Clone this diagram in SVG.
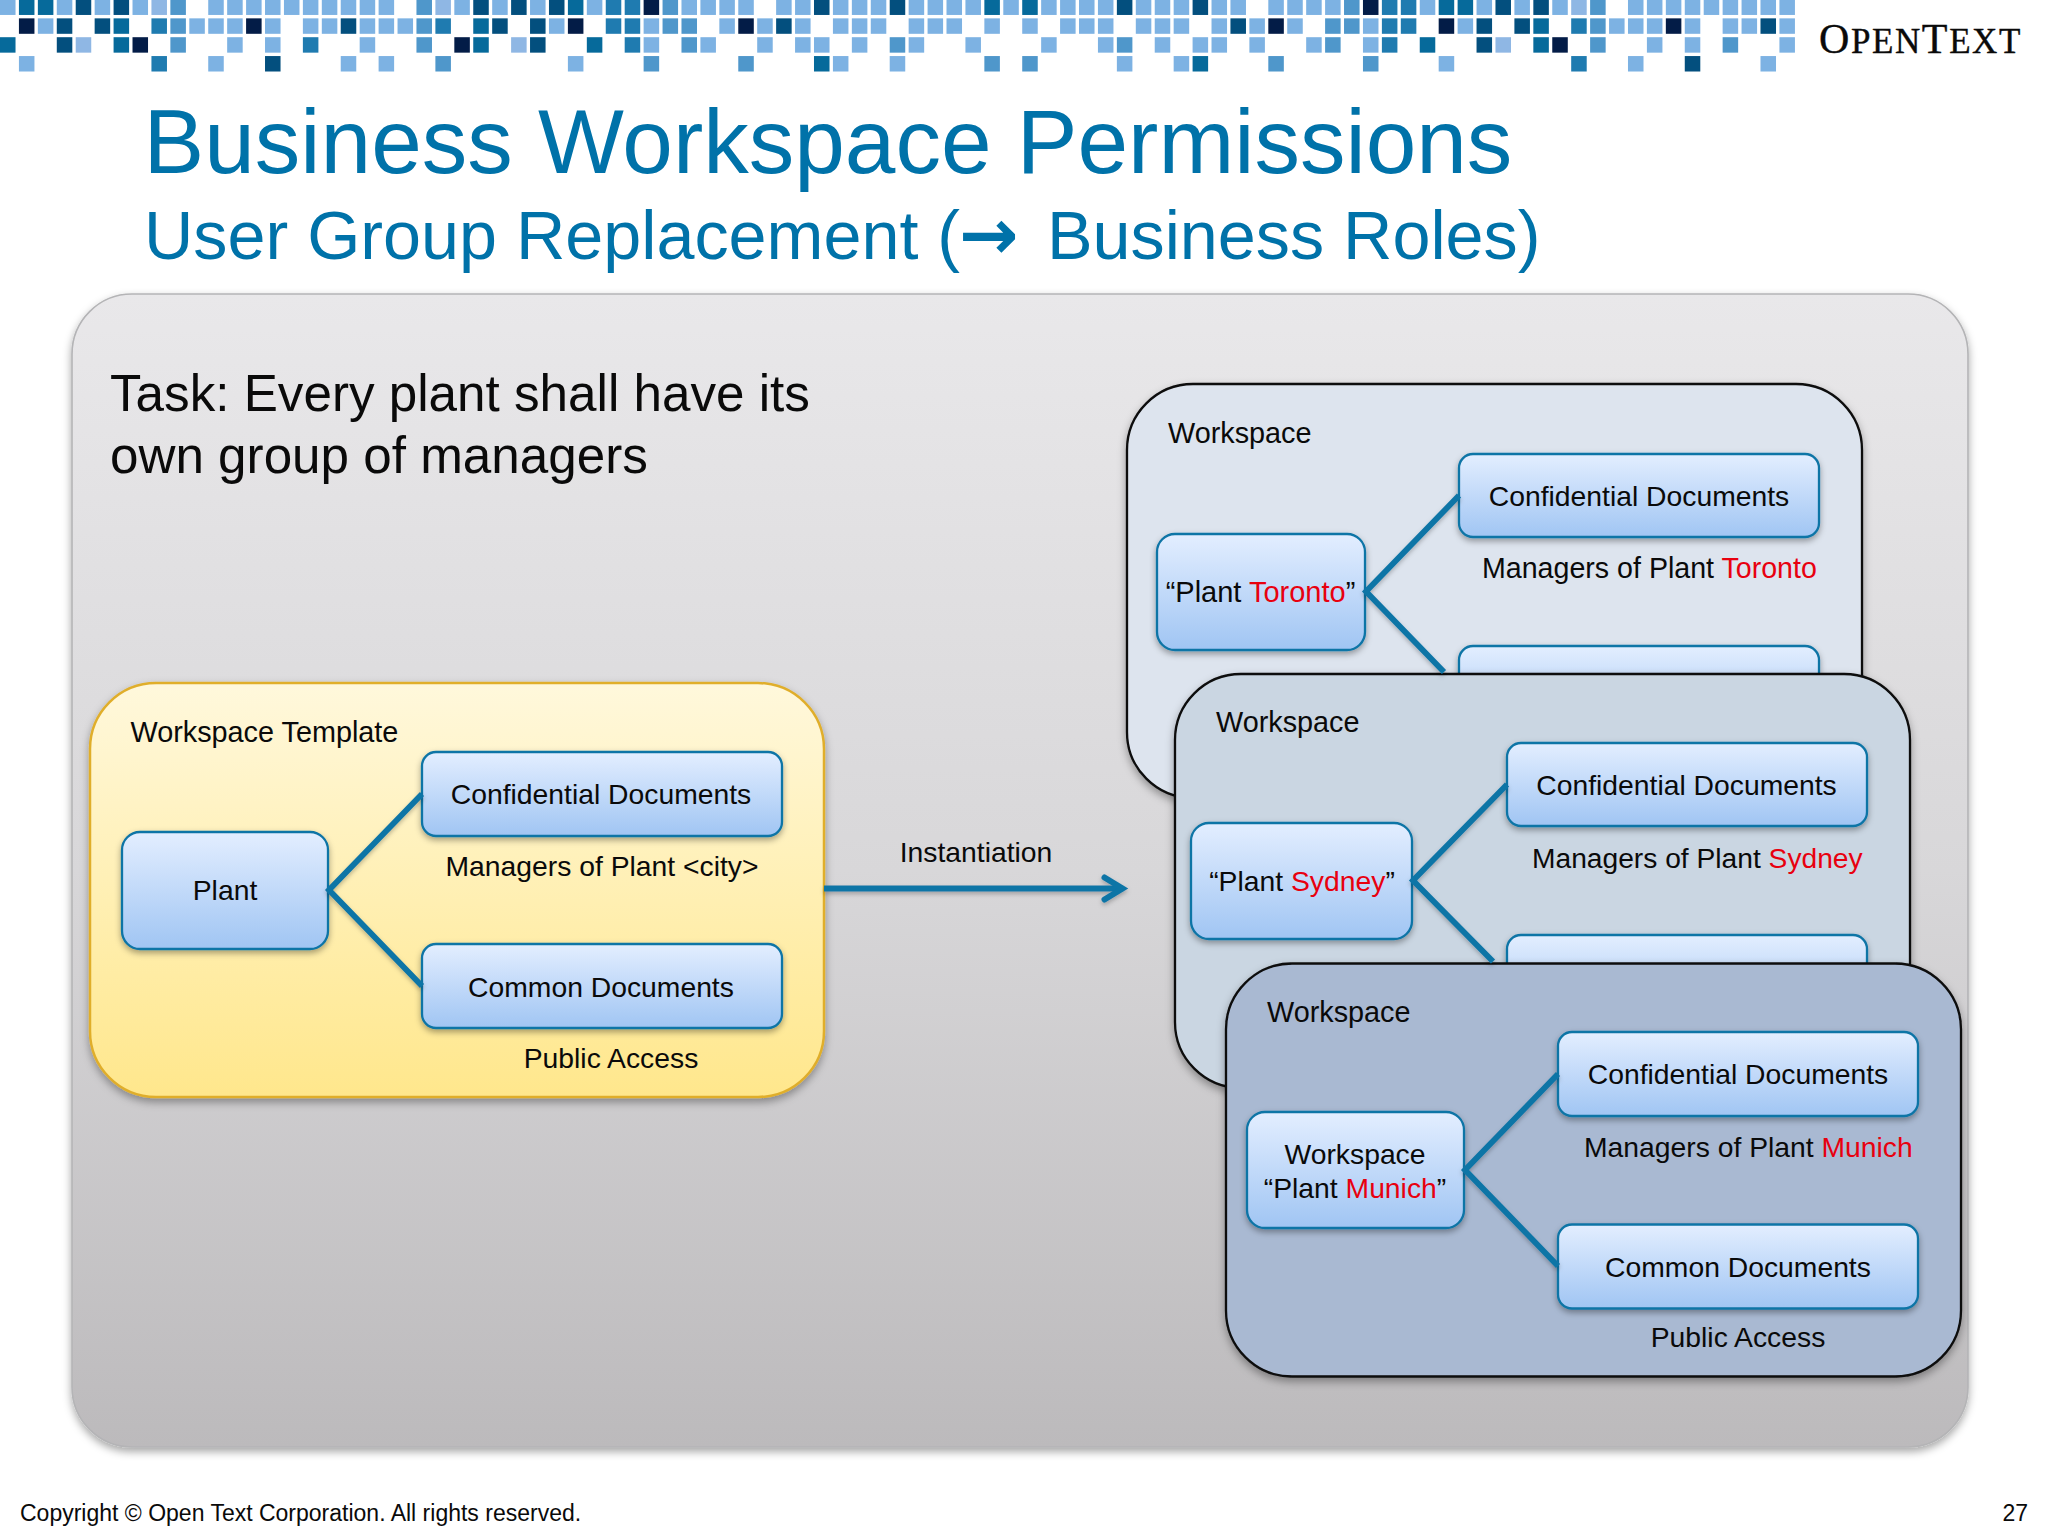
<svg xmlns="http://www.w3.org/2000/svg" width="2048" height="1536" viewBox="0 0 2048 1536">
<style>
text{font-family:"Liberation Sans",Arial,sans-serif;fill:#0a0a0a}
.mosaic rect{width:.82px;height:.82px}
.L{fill:#7db2e3}.P{fill:#8fb7e4}.M{fill:#4f97cb}.B{fill:#1f7bb0}.T{fill:#066a9b}.D{fill:#034f7e}.N{fill:#031c47}
.t{font-size:28.3px}.w{font-size:28.8px}.m{text-anchor:middle}.r{fill:#e8000f}
.box{fill:url(#boxFill);stroke:#0f74a6;stroke-width:2.3;filter:url(#sh)}
.ws{stroke:#0a0a0a;stroke-width:2.3;filter:url(#sh2)}
.conn{fill:none;stroke:#0f74a6;stroke-width:5.8}
.title{fill:#0072a9}
</style>
<defs>
<linearGradient id="boxFill" x1="0" y1="0" x2="0" y2="1"><stop offset="0" stop-color="#e3eeff"/><stop offset="1" stop-color="#a0c5f3"/></linearGradient>
<linearGradient id="panelFill" x1="0" y1="0" x2="0" y2="1"><stop offset="0" stop-color="#e9e8ea"/><stop offset=".5" stop-color="#d8d7d9"/><stop offset="1" stop-color="#bcbabc"/></linearGradient>
<linearGradient id="tplFill" x1="0" y1="0" x2="0" y2="1"><stop offset="0" stop-color="#fff8dc"/><stop offset="1" stop-color="#ffe78c"/></linearGradient>
<filter id="sh" x="-10%" y="-10%" width="120%" height="125%"><feDropShadow dx="0" dy="3" stdDeviation="3" flood-color="#000" flood-opacity=".35"/></filter>
<filter id="sh2" x="-5%" y="-5%" width="110%" height="112%"><feDropShadow dx="0" dy="4" stdDeviation="4" flood-color="#000" flood-opacity=".35"/></filter>
<filter id="sh3" x="-5%" y="-5%" width="110%" height="110%"><feDropShadow dx="0" dy="2.5" stdDeviation="2" flood-color="#000" flood-opacity=".25"/></filter>
<marker id="head" markerUnits="userSpaceOnUse" markerWidth="30" markerHeight="34" refX="24" refY="15" orient="auto"><path d="M6 4L24 15L6 26" fill="none" stroke="#0f74a6" stroke-width="6" stroke-linecap="round"/></marker>
</defs>
<rect width="2048" height="1536" fill="#fff"/>
<g id="mosaic" class="mosaic" transform="translate(0 -.5) scale(18.93 18.85)">
<g class="L"><rect x="0" y="0"/><rect x="3" y="0"/><rect x="5" y="0"/><rect x="7" y="0"/><rect x="11" y="0"/><rect x="12" y="0"/><rect x="13" y="0"/><rect x="14" y="0"/><rect x="15" y="0"/><rect x="16" y="0"/><rect x="17" y="0"/><rect x="18" y="0"/><rect x="19" y="0"/><rect x="20" y="0"/><rect x="24" y="0"/><rect x="26" y="0"/><rect x="28" y="0"/><rect x="31" y="0"/><rect x="36" y="0"/><rect x="37" y="0"/><rect x="38" y="0"/><rect x="39" y="0"/><rect x="41" y="0"/><rect x="42" y="0"/><rect x="44" y="0"/><rect x="45" y="0"/><rect x="46" y="0"/><rect x="48" y="0"/><rect x="49" y="0"/><rect x="50" y="0"/><rect x="51" y="0"/><rect x="53" y="0"/><rect x="55" y="0"/><rect x="56" y="0"/><rect x="57" y="0"/><rect x="58" y="0"/><rect x="60" y="0"/><rect x="61" y="0"/><rect x="62" y="0"/><rect x="64" y="0"/><rect x="65" y="0"/><rect x="67" y="0"/><rect x="68" y="0"/><rect x="69" y="0"/><rect x="70" y="0"/><rect x="75" y="0"/><rect x="78" y="0"/><rect x="80" y="0"/><rect x="82" y="0"/><rect x="86" y="0"/><rect x="87" y="0"/><rect x="88" y="0"/><rect x="89" y="0"/><rect x="90" y="0"/><rect x="91" y="0"/><rect x="92" y="0"/><rect x="93" y="0"/><rect x="94" y="0"/>
<rect x="2" y="1"/><rect x="10" y="1"/><rect x="11" y="1"/><rect x="12" y="1"/><rect x="14" y="1"/><rect x="16" y="1"/><rect x="17" y="1"/><rect x="19" y="1"/><rect x="20" y="1"/><rect x="21" y="1"/><rect x="29" y="1"/><rect x="34" y="1"/><rect x="38" y="1"/><rect x="40" y="1"/><rect x="42" y="1"/><rect x="44" y="1"/><rect x="45" y="1"/><rect x="46" y="1"/><rect x="48" y="1"/><rect x="49" y="1"/><rect x="50" y="1"/><rect x="52" y="1"/><rect x="54" y="1"/><rect x="56" y="1"/><rect x="57" y="1"/><rect x="58" y="1"/><rect x="60" y="1"/><rect x="61" y="1"/><rect x="62" y="1"/><rect x="64" y="1"/><rect x="66" y="1"/><rect x="68" y="1"/><rect x="72" y="1"/><rect x="77" y="1"/><rect x="85" y="1"/><rect x="86" y="1"/><rect x="87" y="1"/><rect x="89" y="1"/><rect x="91" y="1"/><rect x="92" y="1"/><rect x="94" y="1"/>
<rect x="12" y="2"/><rect x="14" y="2"/><rect x="19" y="2"/><rect x="34" y="2"/><rect x="37" y="2"/><rect x="40" y="2"/><rect x="42" y="2"/><rect x="43" y="2"/><rect x="45" y="2"/><rect x="48" y="2"/><rect x="51" y="2"/><rect x="55" y="2"/><rect x="58" y="2"/><rect x="61" y="2"/><rect x="63" y="2"/><rect x="64" y="2"/><rect x="66" y="2"/><rect x="69" y="2"/><rect x="72" y="2"/><rect x="87" y="2"/><rect x="89" y="2"/><rect x="94" y="2"/>
<rect x="1" y="3"/><rect x="11" y="3"/><rect x="18" y="3"/><rect x="20" y="3"/><rect x="30" y="3"/><rect x="44" y="3"/><rect x="47" y="3"/><rect x="59" y="3"/><rect x="62" y="3"/><rect x="76" y="3"/><rect x="86" y="3"/><rect x="93" y="3"/></g>
<g class="P"><rect x="8" y="0"/><rect x="23" y="0"/><rect x="83" y="0"/><rect x="4" y="2"/><rect x="27" y="2"/><rect x="79" y="2"/></g>
<g class="M"><rect x="9" y="0"/><rect x="22" y="0"/><rect x="35" y="0"/><rect x="71" y="0"/><rect x="84" y="0"/><rect x="9" y="1"/><rect x="22" y="1"/><rect x="35" y="1"/><rect x="36" y="1"/><rect x="70" y="1"/><rect x="71" y="1"/><rect x="84" y="1"/><rect x="9" y="2"/><rect x="22" y="2"/><rect x="36" y="2"/><rect x="47" y="2"/><rect x="59" y="2"/><rect x="70" y="2"/><rect x="84" y="2"/><rect x="91" y="2"/><rect x="23" y="3"/><rect x="34" y="3"/><rect x="39" y="3"/><rect x="52" y="3"/><rect x="54" y="3"/><rect x="67" y="3"/><rect x="72" y="3"/></g>
<g class="B"><rect x="32" y="0"/><rect x="33" y="0"/><rect x="73" y="0"/><rect x="74" y="0"/><rect x="8" y="1"/><rect x="23" y="1"/><rect x="32" y="1"/><rect x="33" y="1"/><rect x="73" y="1"/><rect x="74" y="1"/><rect x="83" y="1"/><rect x="16" y="2"/><rect x="33" y="2"/><rect x="73" y="2"/><rect x="8" y="3"/><rect x="83" y="3"/></g>
<g class="T"><rect x="1" y="0"/><rect x="2" y="0"/><rect x="30" y="0"/><rect x="52" y="0"/><rect x="54" y="0"/><rect x="76" y="0"/><rect x="77" y="0"/><rect x="6" y="1"/><rect x="25" y="1"/><rect x="81" y="1"/><rect x="0" y="2"/><rect x="6" y="2"/><rect x="25" y="2"/><rect x="31" y="2"/><rect x="75" y="2"/><rect x="81" y="2"/><rect x="43" y="3"/><rect x="63" y="3"/></g>
<g class="D"><rect x="4" y="0"/><rect x="6" y="0"/><rect x="25" y="0"/><rect x="27" y="0"/><rect x="29" y="0"/><rect x="43" y="0"/><rect x="47" y="0"/><rect x="59" y="0"/><rect x="63" y="0"/><rect x="79" y="0"/><rect x="81" y="0"/><rect x="3" y="1"/><rect x="5" y="1"/><rect x="18" y="1"/><rect x="26" y="1"/><rect x="28" y="1"/><rect x="41" y="1"/><rect x="65" y="1"/><rect x="78" y="1"/><rect x="80" y="1"/><rect x="93" y="1"/><rect x="3" y="2"/><rect x="28" y="2"/><rect x="78" y="2"/><rect x="14" y="3"/><rect x="89" y="3"/></g>
<g class="N"><rect x="34" y="0"/><rect x="72" y="0"/><rect x="1" y="1"/><rect x="13" y="1"/><rect x="30" y="1"/><rect x="39" y="1"/><rect x="67" y="1"/><rect x="76" y="1"/><rect x="88" y="1"/><rect x="7" y="2"/><rect x="24" y="2"/><rect x="82" y="2"/></g>
</g>
<text id="logo" x="1819" y="52.7" style="font-family:'Liberation Serif',serif;font-size:35px;stroke:#0a0a0a;stroke-width:.4" letter-spacing="1.6"><tspan style="font-size:42px">O</tspan>PEN<tspan style="font-size:42px">T</tspan>EXT</text>
<text id="title" class="title" x="143.5" y="172.7" style="font-size:91px">Business Workspace Permissions</text>
<text id="subtitle" class="title" x="144" y="259.3" style="font-size:68.3px">User Group Replacement (<tspan x="959" style="font-family:'DejaVu Sans',sans-serif;font-weight:bold;font-size:71px">→</tspan><tspan x="1047">Business Roles)</tspan></text>
<g id="panel"><rect x="72" y="294" width="1896" height="1153" rx="60" fill="url(#panelFill)" stroke="#b4b4b6" stroke-width="1.6" filter="url(#sh2)"/></g>
<g id="task"><text x="110" y="411" style="font-size:51.2px">Task: Every plant shall have its</text><text x="110" y="473" style="font-size:51.2px">own group of managers</text></g>
<g id="template">
<rect x="90" y="683" width="734" height="414" rx="66" fill="url(#tplFill)" stroke="#e0ae2c" stroke-width="2.5" filter="url(#sh2)"/>
<text class="w" x="130.5" y="741.7">Workspace Template</text>
<g id="template-plant"><rect class="box" x="122" y="832" width="206" height="117" rx="18"/><text class="t m" x="225" y="900">Plant</text></g>
<g id="template-conf"><rect class="box" x="422" y="752" width="360" height="84" rx="14"/><text class="t m" x="601" y="804">Confidential Documents</text></g>
<g id="template-common"><rect class="box" x="422" y="944" width="360" height="84" rx="14"/><text class="t m" x="601" y="997">Common Documents</text></g>
<text class="t" x="445.5" y="876">Managers of Plant &lt;city&gt;</text>
<text class="t m" x="611" y="1068">Public Access</text>
</g>
<text id="instantiation" class="t m" x="976" y="862">Instantiation</text>
<g id="ws-toronto">
<rect class="ws" x="1127" y="384" width="735" height="414" rx="66" fill="#dde4ee"/>
<text class="w" x="1168" y="443">Workspace</text>
<g id="toronto-plant"><rect class="box" x="1157" y="534" width="208" height="116" rx="18"/><text class="t m" x="1260.5" y="602" style="font-size:29px">“Plant <tspan class="r">Toronto</tspan>”</text></g>
<g id="toronto-conf"><rect class="box" x="1459" y="454" width="360" height="83" rx="14"/><text class="t m" x="1639" y="506">Confidential Documents</text></g>
<text class="t" x="1482" y="578" style="font-size:28.6px">Managers of Plant <tspan class="r">Toronto</tspan></text>
<g id="toronto-common"><rect class="box" x="1459" y="646" width="360" height="84" rx="14"/></g>
</g>
<g id="ws-sydney">
<rect class="ws" x="1175" y="674" width="735" height="414" rx="66" fill="#cad6e2"/>
<text class="w" x="1216" y="732">Workspace</text>
<g id="sydney-plant"><rect class="box" x="1191" y="823" width="221" height="116" rx="18"/><text class="t m" x="1302" y="891">“Plant <tspan class="r">Sydney</tspan>”</text></g>
<g id="sydney-conf"><rect class="box" x="1507" y="743" width="360" height="83" rx="14"/><text class="t m" x="1686.5" y="795">Confidential Documents</text></g>
<text class="t" x="1532" y="868" style="font-size:28.2px">Managers of Plant <tspan class="r">Sydney</tspan></text>
<g id="sydney-common"><rect class="box" x="1507" y="935" width="360" height="84" rx="14"/></g>
</g>
<g id="ws-munich">
<rect class="ws" x="1226" y="963.5" width="735" height="413" rx="66" fill="#a9b9d2"/>
<text class="w" x="1267" y="1021.7">Workspace</text>
<g id="munich-plant"><rect class="box" x="1247" y="1112" width="217" height="116" rx="18"/><text class="t m" x="1355" y="1164">Workspace</text><text class="t m" x="1355" y="1197.5">“Plant <tspan class="r">Munich</tspan>”</text></g>
<g id="munich-conf"><rect class="box" x="1558" y="1032" width="360" height="84" rx="14"/><text class="t m" x="1738" y="1084">Confidential Documents</text></g>
<text class="t" x="1584" y="1156.5">Managers of Plant <tspan class="r">Munich</tspan></text>
<g id="munich-common"><rect class="box" x="1558" y="1224.5" width="360" height="84" rx="14"/><text class="t m" x="1738" y="1277">Common Documents</text></g>
<text class="t m" x="1738" y="1347">Public Access</text>
</g>
<g id="connectors" filter="url(#sh3)">
<path class="conn" d="M422 794L329 890L422 986"/>
<path class="conn" d="M1459 495.5L1366 591.5L1444 672"/>
<path class="conn" d="M1507 784.5L1413 880.5L1493 961.5"/>
<path class="conn" d="M1558 1074L1465 1170L1558 1266"/>
<path class="conn" d="M824 888.5H1122.5" marker-end="url(#head)"/>
</g>
<g id="footer"><text x="20" y="1521" style="font-size:23px">Copyright © Open Text Corporation. All rights reserved.</text><text x="2028" y="1521" style="font-size:23px;text-anchor:end">27</text></g>
</svg>
